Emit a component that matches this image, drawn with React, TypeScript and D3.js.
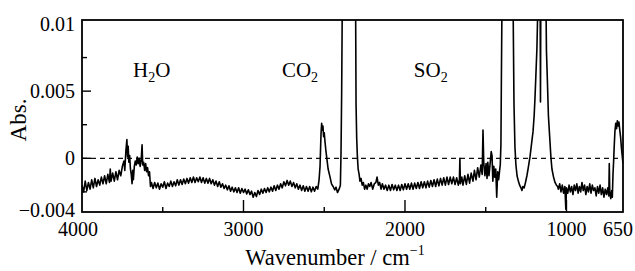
import React, { useEffect, useRef } from 'react';
import * as d3 from 'd3';

// spectrum values, [wavenumber cm-1, absorbance x 1e-3]
const waterRegion: [number, number][] = [
  [4000, -2.0], [3990, -2.5], [3980, -1.7], [3970, -2.4], [3960, -1.8], [3950, -2.3],
  [3940, -1.6], [3930, -2.2], [3920, -1.5], [3910, -2.1], [3900, -1.6], [3890, -2.0],
  [3880, -1.4], [3870, -1.9], [3860, -1.3], [3850, -1.9], [3840, -1.2], [3830, -1.8],
  [3825, -0.8], [3820, -1.7], [3810, -1.1], [3800, -1.7], [3790, -1.0], [3780, -1.6],
  [3770, -0.9], [3760, -1.3], [3750, -0.6], [3740, -0.2], [3735, -0.9], [3728, 0.6],
  [3722, 1.4], [3718, 0.1], [3714, 0.9], [3710, -0.3], [3705, 0.2], [3700, -0.8],
  [3695, -1.2], [3690, -1.9], [3686, -0.9], [3682, -1.6], [3676, -0.6], [3670, -0.2],
  [3664, -0.5], [3658, 0.1], [3652, -0.4], [3646, 0.0], [3640, -0.6], [3634, -0.2],
  [3628, 1.0], [3624, -0.5], [3618, -0.3], [3612, -0.9], [3606, -0.4], [3600, -1.0],
  [3594, -0.7], [3588, -1.3], [3582, -1.0], [3576, -2.1], [3570, -1.8],
];

const broadRegion: [number, number][] = [
  [3560, -2.25], [3550, -1.8], [3540, -2.2], [3530, -1.85], [3520, -2.3], [3510, -1.9],
  [3500, -2.15], [3490, -1.75], [3480, -2.25], [3470, -1.85], [3460, -2.1], [3450, -1.7],
  [3440, -2.1], [3430, -1.75], [3420, -2.05], [3410, -1.6], [3400, -2.0], [3390, -1.6],
  [3380, -1.95], [3370, -1.55], [3360, -1.9], [3350, -1.5], [3340, -1.85], [3330, -1.45],
  [3320, -1.8], [3310, -1.4], [3300, -1.8], [3290, -1.45], [3280, -1.75], [3270, -1.4],
  [3260, -1.8], [3250, -1.45], [3240, -1.85], [3230, -1.5], [3220, -1.85], [3210, -1.5],
  [3200, -1.9], [3190, -1.6], [3180, -2.0], [3170, -1.7], [3160, -2.1], [3150, -1.75],
  [3140, -2.15], [3130, -1.9], [3120, -2.25], [3110, -2.0], [3100, -2.35], [3090, -2.05],
  [3080, -2.45], [3070, -2.15], [3060, -2.5], [3050, -2.2], [3040, -2.55], [3030, -2.2],
  [3020, -2.6], [3010, -2.25], [3000, -2.55], [2990, -2.3], [2980, -2.65], [2970, -2.35],
  [2960, -2.7], [2950, -2.45], [2940, -2.9], [2930, -2.55], [2920, -2.85], [2910, -2.4],
  [2900, -2.7], [2890, -2.3], [2880, -2.6], [2870, -2.25], [2860, -2.55], [2850, -2.2],
  [2840, -2.5], [2830, -2.15], [2820, -2.45], [2810, -2.05], [2800, -2.4], [2790, -2.0],
  [2780, -2.3], [2770, -1.9], [2760, -2.2], [2750, -1.75], [2740, -2.05], [2730, -1.65],
  [2720, -2.0], [2710, -1.7], [2700, -2.1], [2690, -1.8], [2680, -2.2], [2670, -1.9],
  [2660, -2.3], [2650, -2.0], [2640, -2.4], [2630, -2.05], [2620, -2.45], [2610, -2.1],
  [2600, -2.45], [2590, -2.1], [2580, -2.5], [2570, -2.15], [2560, -2.45], [2550, -2.1],
];

const co2Region: [number, number][] = [
  [2540, -2.3], [2532, -1.6], [2526, -0.6], [2520, 1.8], [2516, 2.6], [2512, 2.1],
  [2508, 2.4], [2504, 1.6], [2500, 1.9], [2495, 1.2], [2490, 0.6], [2483, -0.1],
  [2476, -0.8], [2464, -1.4], [2455, -1.9], [2445, -2.1], [2435, -2.35], [2427, -2.15],
  [2418, -2.55], [2408, -2.3], [2400, -2.0], [2396, 0.5], [2392, 5.0], [2388, 12],
  [2384, 15], [2310, 15], [2306, 12], [2303, 4.0], [2299, 1.5], [2295, 0.2],
  [2290, -0.8], [2284, -1.2], [2279, -1.7], [2272, -1.5], [2265, -2.0], [2258, -1.8],
  [2250, -2.3], [2242, -2.0], [2234, -2.3], [2226, -1.9], [2218, -2.1], [2210, -1.8],
  [2200, -2.3], [2190, -1.9], [2180, -1.8], [2173, -1.4], [2165, -2.0], [2157, -1.8],
  [2148, -2.3], [2140, -1.9], [2130, -2.3],
];

const quietRegion: [number, number][] = [
  [2120, -2.0], [2110, -2.4], [2100, -2.0], [2090, -2.4], [2080, -1.95], [2070, -2.35],
  [2060, -2.0], [2050, -2.4], [2040, -2.0], [2030, -2.4], [2020, -1.95], [2010, -2.35],
  [2000, -1.9], [1990, -2.3], [1980, -1.9], [1970, -2.3], [1960, -1.85], [1950, -2.3],
  [1940, -1.85], [1930, -2.25], [1920, -1.8], [1910, -2.25], [1900, -1.75], [1890, -2.2],
  [1880, -1.75], [1870, -2.2], [1860, -1.7], [1850, -2.15], [1840, -1.65], [1830, -2.1],
  [1820, -1.6], [1810, -2.1], [1800, -1.55], [1790, -2.05], [1780, -1.5], [1770, -2.0],
  [1760, -1.45], [1750, -2.0], [1740, -1.4], [1730, -1.95], [1720, -1.4], [1710, -1.9],
  [1700, -1.4], [1690, -1.95], [1680, -1.45], [1670, -2.0], [1663, -1.6], [1660, 0.0],
  [1657, -1.9], [1648, -1.4], [1641, -2.0], [1630, -1.3], [1620, -1.95], [1610, -1.2],
  [1600, -1.85], [1590, -1.1], [1579, -1.7], [1570, -0.9], [1560, -1.6], [1550, -0.7],
  [1540, -1.4], [1530, -0.5], [1522, -1.2], [1517, 2.1], [1512, -0.4], [1505, -1.3],
  [1498, -0.4], [1492, -1.5], [1487, -0.3], [1480, -1.3], [1472, -0.3], [1466, 0.5],
  [1461, 0.2], [1456, -1.7], [1450, -0.6], [1444, -1.4], [1438, -0.8], [1432, -2.9],
  [1426, -1.0], [1420, -1.6], [1414, -0.9], [1410, -0.5],
];

const so2Region: [number, number][] = [
  [1406, 1.0], [1403, 6.0], [1399, 12], [1395, 15], [1335, 15], [1331, 12],
  [1325, 4.0], [1319, 0.8], [1313, -0.5], [1306, -1.3], [1298, -1.7], [1290, -2.0],
  [1282, -2.2], [1276, -2.4], [1270, -2.1], [1262, -2.2], [1254, -1.8], [1245, -1.3],
  [1238, -0.8], [1230, -0.2], [1226, 0.1], [1218, 0.9], [1207, 2.0], [1200, 3.2],
  [1195, 4.5], [1190, 6.0], [1183, 8.2], [1178, 11], [1172, 15], [1164, 15],
  [1161, 4.2], [1158, 15], [1130, 15], [1124, 8], [1118, 5.7], [1112, 3.2],
  [1105, 1.8], [1096, 0.0], [1090, -0.8], [1080, -1.4], [1071, -1.8], [1062, -2.0],
  [1055, -2.1],
];

const lowRegion: [number, number][] = [
  [1050, -2.3], [1042, -1.9], [1034, -2.5], [1026, -2.0], [1018, -2.6], [1010, -2.1],
  [1004, -3.8], [1000, -2.2], [992, -2.6], [984, -2.0], [976, -2.5], [968, -2.1],
  [960, -2.7], [952, -2.0], [944, -2.4], [936, -1.9], [928, -2.6], [920, -2.1],
  [912, -2.5], [904, -1.8], [896, -2.4], [888, -2.0], [880, -2.7], [872, -2.1],
  [864, -2.5], [856, -1.9], [848, -2.6], [840, -2.0], [832, -2.4], [824, -2.2],
  [816, -2.8], [808, -2.1], [800, -2.6], [792, -2.0], [784, -2.7], [776, -2.2],
  [768, -2.9], [760, -2.3], [752, -2.7], [744, -2.2], [738, -2.8], [735, -0.4],
  [732, -2.5], [726, -3.0], [720, -2.4], [716, -2.9], [712, -1.2], [708, -0.2],
  [704, 1.0], [700, 2.0], [695, 2.6], [690, 2.2], [685, 2.8], [680, 2.4],
  [675, 2.7], [670, 2.1], [665, 1.6], [660, 0.8], [655, 0.2], [650, -0.4],
];

const xMajorTicks = [4000, 3000, 2000, 1000, 650];
const xMinorTicks = [3500, 2500, 1500];
const yMajorTicks = [0.01, 0.005, 0, -0.004];
const yMinorTicks = [0.0075, 0.0025, -0.0025];
const yTickLabels = ['0.01', '0.005', '0', '\u22120.004'];

// gas names, placed at the wavenumber where the label starts
const gasLabels = [
  { main: 'H', sub: '2', tail: 'O', wn: 3684 },
  { main: 'CO', sub: '2', tail: '', wn: 2762 },
  { main: 'SO', sub: '2', tail: '', wn: 1945 },
];

const App = () => {
  const ref = useRef<SVGSVGElement>(null);

  useEffect(() => {
    const svg = d3.select(ref.current);
    svg.selectAll('*').remove();

    const width = 635;
    const height = 271;
    const margin = { top: 20, right: 12, bottom: 59, left: 82 };
    const plotW = width - margin.left - margin.right;
    const plotBottom = height - margin.bottom;

    // scales - wavenumber runs right to left
    const x = d3.scaleLinear().domain([4000, 650]).range([margin.left, margin.left + plotW]);
    const y = d3.scaleLinear().domain([-0.004, 0.01]).range([plotBottom, 24]);

    const font = 'Liberation Serif, Times New Roman, Times, DejaVu Serif, serif';

    svg.append('clipPath').attr('id', 'plot-clip')
      .append('rect')
      .attr('x', margin.left).attr('y', margin.top)
      .attr('width', plotW).attr('height', plotBottom - margin.top);

    // zero line
    svg.append('line')
      .attr('x1', margin.left).attr('x2', margin.left + plotW)
      .attr('y1', y(0)).attr('y2', y(0))
      .attr('stroke', '#111').attr('stroke-width', 1.2)
      .attr('stroke-dasharray', '5,4');

    const data = [...waterRegion, ...broadRegion, ...co2Region, ...quietRegion, ...so2Region, ...lowRegion];

    const line = d3.line<[number, number]>()
      .x(d => x(d[0]))
      .y(d => y(d[1] / 1000));

    svg.append('path')
      .datum(data)
      .attr('clip-path', 'url(#plot-clip)')
      .attr('fill', 'none')
      .attr('stroke', '#000')
      .attr('stroke-width', 1.6)
      .attr('stroke-linejoin', 'round')
      .attr('d', line);

    // frame
    svg.append('rect')
      .attr('x', margin.left).attr('y', margin.top)
      .attr('width', plotW).attr('height', plotBottom - margin.top)
      .attr('fill', 'none').attr('stroke', '#000').attr('stroke-width', 1.8);

    // x ticks point inward
    svg.selectAll('.xmaj').data(xMajorTicks.slice(1, 4)).enter().append('line')
      .attr('x1', d => x(d)).attr('x2', d => x(d))
      .attr('y1', plotBottom).attr('y2', plotBottom - 12)
      .attr('stroke', '#000').attr('stroke-width', 1.4);
    svg.selectAll('.xmin').data(xMinorTicks).enter().append('line')
      .attr('x1', d => x(d)).attr('x2', d => x(d))
      .attr('y1', plotBottom).attr('y2', plotBottom - 5)
      .attr('stroke', '#000').attr('stroke-width', 1.4);

    svg.selectAll('.xlab').data(xMajorTicks).enter().append('text')
      .attr('x', (d, i) => x(d) + (i === 0 ? -4 : i === 4 ? -5 : 0))
      .attr('y', 236)
      .attr('text-anchor', 'middle')
      .style('font-family', font).attr('font-size', 20)
      .text(d => String(d));

    // y ticks
    svg.selectAll('.ymaj').data(yMajorTicks.slice(1, 3)).enter().append('line')
      .attr('x1', margin.left).attr('x2', margin.left + 9)
      .attr('y1', d => y(d)).attr('y2', d => y(d))
      .attr('stroke', '#000').attr('stroke-width', 1.4);
    svg.selectAll('.ymin').data(yMinorTicks).enter().append('line')
      .attr('x1', margin.left).attr('x2', margin.left + 5)
      .attr('y1', d => y(d)).attr('y2', d => y(d))
      .attr('stroke', '#000').attr('stroke-width', 1.4);

    svg.selectAll('.ylab').data(yMajorTicks).enter().append('text')
      .attr('x', 75)
      .attr('y', (d, i) => y(d) + (i === 3 ? -2 : 0))
      .attr('dy', '0.35em')
      .attr('text-anchor', 'end')
      .style('font-family', font).attr('font-size', 20)
      .text((d, i) => yTickLabels[i]);

    // axis titles
    const xt = svg.append('text')
      .attr('x', 335).attr('y', 265)
      .attr('text-anchor', 'middle')
      .style('font-family', font).attr('font-size', 22.5);
    xt.append('tspan').text('Wavenumber / cm');
    xt.append('tspan').attr('font-size', 14).attr('dy', -10).text('\u22121');

    svg.append('text')
      .attr('transform', `translate(26, 120) rotate(-90)`)
      .attr('text-anchor', 'middle')
      .style('font-family', font).attr('font-size', 23)
      .text('Abs.');

    // gas annotations
    gasLabels.forEach(g => {
      const t = svg.append('text')
        .attr('x', x(g.wn)).attr('y', 77)
        .style('font-family', font).attr('font-size', 21);
      t.append('tspan').text(g.main);
      t.append('tspan').attr('font-size', 14).attr('dy', 5).text(g.sub);
      if (g.tail) t.append('tspan').attr('dy', -5).text(g.tail);
    });
  }, []);

  return (
    <svg ref={ref} width={635} height={271}
      style={{ position: 'absolute', left: 0, top: 0, background: '#fff' }} />
  );
};

export default App;
